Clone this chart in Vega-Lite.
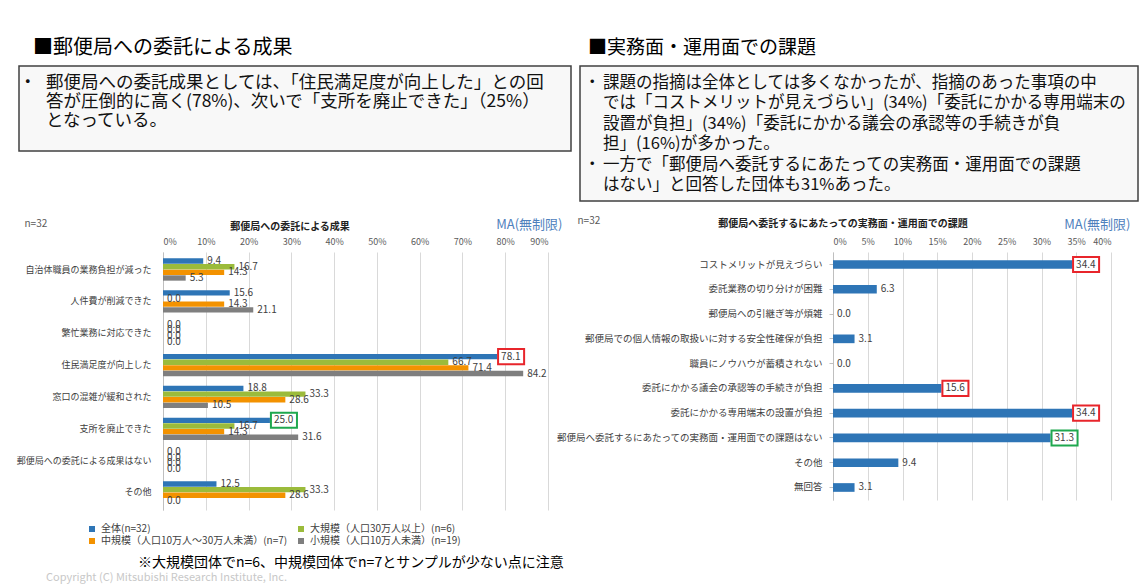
{
  "$schema": "https://vega.github.io/schema/vega-lite/v6.json",
  "background": "white",
  "padding": {"left": 15, "top": 37, "right": 5, "bottom": 2},
  "config": {
    "font": "Noto Sans CJK JP",
    "view": {"stroke": null},
    "title": {"font": "Noto Sans CJK JP"}
  },
  "title": {"text": "Copyright (C) Mitsubishi Research Institute, Inc.", "orient": "bottom", "anchor": "start", "fontSize": 11, "fontWeight": "normal", "color": "#c8c8c8", "offset": 2, "dx": 30},
  "datasets": {
    "leftText": [
      {"line": 1, "bullet": true, "text": "郵便局への委託成果としては、「住民満足度が向上した」との回"},
      {"line": 2, "bullet": false, "text": "答が圧倒的に高く(78%)、次いで「支所を廃止できた」（25%）"},
      {"line": 3, "bullet": false, "text": "となっている。"}
    ],
    "rightText": [
      {"line": 1, "bullet": true, "text": "課題の指摘は全体としては多くなかったが、指摘のあった事項の中"},
      {"line": 2, "bullet": false, "text": "では「コストメリットが見えづらい」(34%)「委託にかかる専用端末の"},
      {"line": 3, "bullet": false, "text": "設置が負担」(34%)「委託にかかる議会の承認等の手続きが負"},
      {"line": 4, "bullet": false, "text": "担」(16%)が多かった。"},
      {"line": 5, "bullet": true, "text": "一方で「郵便局へ委託するにあたっての実務面・運用面での課題"},
      {"line": 6, "bullet": false, "text": "はない」と回答した団体も31%あった。"}
    ],
    "left": [
      {"item": "自治体職員の業務負担が減った", "group": "全体(n=32)", "value": 9.4},
      {"item": "自治体職員の業務負担が減った", "group": "大規模（人口30万人以上）(n=6)", "value": 16.7},
      {"item": "自治体職員の業務負担が減った", "group": "中規模（人口10万人～30万人未満）(n=7)", "value": 14.3},
      {"item": "自治体職員の業務負担が減った", "group": "小規模（人口10万人未満）(n=19)", "value": 5.3},
      {"item": "人件費が削減できた", "group": "全体(n=32)", "value": 15.6},
      {"item": "人件費が削減できた", "group": "大規模（人口30万人以上）(n=6)", "value": 0.0},
      {"item": "人件費が削減できた", "group": "中規模（人口10万人～30万人未満）(n=7)", "value": 14.3},
      {"item": "人件費が削減できた", "group": "小規模（人口10万人未満）(n=19)", "value": 21.1},
      {"item": "繁忙業務に対応できた", "group": "全体(n=32)", "value": 0.0},
      {"item": "繁忙業務に対応できた", "group": "大規模（人口30万人以上）(n=6)", "value": 0.0},
      {"item": "繁忙業務に対応できた", "group": "中規模（人口10万人～30万人未満）(n=7)", "value": 0.0},
      {"item": "繁忙業務に対応できた", "group": "小規模（人口10万人未満）(n=19)", "value": 0.0},
      {"item": "住民満足度が向上した", "group": "全体(n=32)", "value": 78.1, "emphasis": "primary"},
      {"item": "住民満足度が向上した", "group": "大規模（人口30万人以上）(n=6)", "value": 66.7},
      {"item": "住民満足度が向上した", "group": "中規模（人口10万人～30万人未満）(n=7)", "value": 71.4},
      {"item": "住民満足度が向上した", "group": "小規模（人口10万人未満）(n=19)", "value": 84.2},
      {"item": "窓口の混雑が緩和された", "group": "全体(n=32)", "value": 18.8},
      {"item": "窓口の混雑が緩和された", "group": "大規模（人口30万人以上）(n=6)", "value": 33.3},
      {"item": "窓口の混雑が緩和された", "group": "中規模（人口10万人～30万人未満）(n=7)", "value": 28.6},
      {"item": "窓口の混雑が緩和された", "group": "小規模（人口10万人未満）(n=19)", "value": 10.5},
      {"item": "支所を廃止できた", "group": "全体(n=32)", "value": 25.0, "emphasis": "secondary"},
      {"item": "支所を廃止できた", "group": "大規模（人口30万人以上）(n=6)", "value": 16.7},
      {"item": "支所を廃止できた", "group": "中規模（人口10万人～30万人未満）(n=7)", "value": 14.3},
      {"item": "支所を廃止できた", "group": "小規模（人口10万人未満）(n=19)", "value": 31.6},
      {"item": "郵便局への委託による成果はない", "group": "全体(n=32)", "value": 0.0},
      {"item": "郵便局への委託による成果はない", "group": "大規模（人口30万人以上）(n=6)", "value": 0.0},
      {"item": "郵便局への委託による成果はない", "group": "中規模（人口10万人～30万人未満）(n=7)", "value": 0.0},
      {"item": "郵便局への委託による成果はない", "group": "小規模（人口10万人未満）(n=19)", "value": 0.0},
      {"item": "その他", "group": "全体(n=32)", "value": 12.5},
      {"item": "その他", "group": "大規模（人口30万人以上）(n=6)", "value": 33.3},
      {"item": "その他", "group": "中規模（人口10万人～30万人未満）(n=7)", "value": 28.6},
      {"item": "その他", "group": "小規模（人口10万人未満）(n=19)", "value": 0.0}
    ],
    "right": [
      {"item": "コストメリットが見えづらい", "value": 34.4, "emphasis": "primary"},
      {"item": "委託業務の切り分けが困難", "value": 6.3},
      {"item": "郵便局への引継ぎ等が煩雑", "value": 0.0},
      {"item": "郵便局での個人情報の取扱いに対する安全性確保が負担", "value": 3.1},
      {"item": "職員にノウハウが蓄積されない", "value": 0.0},
      {"item": "委託にかかる議会の承認等の手続きが負担", "value": 15.6, "emphasis": "primary"},
      {"item": "委託にかかる専用端末の設置が負担", "value": 34.4, "emphasis": "primary"},
      {"item": "郵便局へ委託するにあたっての実務面・運用面での課題はない", "value": 31.3, "emphasis": "secondary"},
      {"item": "その他", "value": 9.4},
      {"item": "無回答", "value": 3.1}
    ]
  },
  "spacing": 13,
  "vconcat": [
    {
      "spacing": 7,
      "hconcat": [
        {
          "title": {"text": "■郵便局への委託による成果", "anchor": "start", "fontSize": 20, "fontWeight": "normal", "color": "#000000", "offset": 8, "dx": 14},
          "width": 552,
          "height": 85,
          "view": {"stroke": "#404040", "strokeWidth": 1.5, "fill": "#f8f8f8"},
          "data": {"name": "leftText"},
          "encoding": {
            "x": {"datum": 0, "type": "quantitative", "scale": {"domain": [0, 1]}, "axis": null},
            "y": {"field": "line", "type": "quantitative", "scale": {"domain": [0.105, 4.58], "reverse": true}, "axis": null}
          },
          "layer": [
            {
              "transform": [{"filter": "datum.bullet"}],
              "mark": {"type": "text", "align": "left", "baseline": "middle", "fontSize": 17.5, "dx": 0, "color": "#111111"},
              "encoding": {"text": {"value": "・"}}
            },
            {
              "mark": {"type": "text", "align": "left", "baseline": "middle", "fontSize": 17.5, "dx": 27, "color": "#111111"},
              "encoding": {"text": {"field": "text"}}
            }
          ]
        },
        {
          "title": {"text": "■実務面・運用面での課題", "anchor": "start", "fontSize": 19, "fontWeight": "normal", "color": "#000000", "offset": 8, "dx": 8},
          "width": 558,
          "height": 135,
          "view": {"stroke": "#404040", "strokeWidth": 1.5, "fill": "#f8f8f8"},
          "data": {"name": "rightText"},
          "encoding": {
            "x": {"datum": 0, "type": "quantitative", "scale": {"domain": [0, 1]}, "axis": null},
            "y": {"field": "line", "type": "quantitative", "scale": {"domain": [0.167, 6.79], "reverse": true}, "axis": null}
          },
          "layer": [
            {
              "transform": [{"filter": "datum.bullet"}],
              "mark": {"type": "text", "align": "left", "baseline": "middle", "fontSize": 16.5, "dx": 4, "color": "#111111"},
              "encoding": {"text": {"value": "・"}}
            },
            {
              "mark": {"type": "text", "align": "left", "baseline": "middle", "fontSize": 16.5, "dx": 23, "color": "#111111"},
              "encoding": {"text": {"field": "text"}}
            }
          ]
        }
      ]
    },
    {
      "title": {"text": "※大規模団体でn=6、中規模団体でn=7とサンプルが少ない点に注意", "orient": "bottom", "anchor": "start", "fontSize": 14, "fontWeight": "normal", "color": "#000000", "offset": 46, "dx": 122},
      "vconcat": [
        {
          "spacing": -9,
          "hconcat": [
            {
              "width": 545,
              "height": 258,
              "title": {"text": "郵便局への委託による成果", "fontSize": 10, "fontWeight": "bold", "color": "#222222", "anchor": "middle", "frame": "bounds", "offset": -14},
              "data": {"name": "left"},
              "encoding": {
                "y": {
                  "field": "item", "type": "nominal",
                  "sort": ["自治体職員の業務負担が減った","人件費が削減できた","繁忙業務に対応できた","住民満足度が向上した","窓口の混雑が緩和された","支所を廃止できた","郵便局への委託による成果はない","その他"],
                  "scale": {"paddingInner": 0.3, "paddingOuter": 0.2},
                  "axis": {"offset": -144, "title": "n=32", "titleAngle": 0, "titleX": -139, "titleY": -29, "titleAlign": "left", "titleBaseline": "middle", "titleFontSize": 10, "titleFontWeight": "normal", "titleColor": "#595959", "labelFontSize": 9, "labelColor": "#404040", "ticks": false, "labelPadding": 12, "domainColor": "#bfbfbf", "labelLimit": 300}
                },
                "yOffset": {"field": "group", "type": "nominal", "sort": ["全体(n=32)","大規模（人口30万人以上）(n=6)","中規模（人口10万人～30万人未満）(n=7)","小規模（人口10万人未満）(n=19)"], "scale": {"paddingInner": 0.05}},
                "x": {
                  "field": "value", "type": "quantitative",
                  "scale": {"domain": [0, 90], "range": [144, 529]},
                  "axis": {"orient": "top", "values": [0,10,20,30,40,50,60,70,80,90], "labelExpr": "datum.value + '%'", "grid": true, "gridColor": "#d9d9d9", "ticks": false, "domain": false, "labelFontSize": 9, "labelColor": "#595959", "labelPadding": 6, "title": "MA(無制限)", "titleFontSize": 13, "titleFontWeight": "normal", "titleColor": "#4F81BD", "titlePadding": 6, "titleX": 543, "titleAlign": "right"}
                }
              },
              "layer": [
                {
                  "mark": {"type": "bar"},
                  "encoding": {
                    "color": {
                      "field": "group", "type": "nominal",
                      "scale": {"domain": ["全体(n=32)","大規模（人口30万人以上）(n=6)","中規模（人口10万人～30万人未満）(n=7)","小規模（人口10万人未満）(n=19)"], "range": ["#2E75B6","#9BBB3B","#F39200","#7F7F7F"]},
                      "legend": {"title": null, "orient": "none", "direction": "horizontal", "legendX": 68, "legendY": 458, "columns": 2, "symbolType": "square", "symbolSize": 36, "labelFontSize": 10, "labelColor": "#404040", "rowPadding": 2, "columnPadding": 8, "labelLimit": 400}
                    }
                  }
                },
                {
                  "transform": [{"filter": "isValid(datum.emphasis)"}],
                  "mark": {"type": "point", "shape": "M0.07,-0.54H1.93V0.54H0.07Z", "size": 784, "filled": true, "fill": "white", "strokeWidth": 2, "opacity": 1},
                  "encoding": {
                    "stroke": {"field": "emphasis", "type": "nominal", "scale": {"domain": ["primary","secondary"], "range": ["#E8252B","#1FA84F"]}, "legend": null}
                  }
                },
                {
                  "mark": {"type": "text", "align": "left", "baseline": "middle", "dx": 4, "fontSize": 10, "color": "#404040"},
                  "encoding": {"text": {"field": "value", "type": "quantitative", "format": ".1f"}}
                }
              ]
            },
            {
              "width": 556,
              "height": 248,
              "title": {"text": "郵便局へ委託するにあたっての実務面・運用面での課題", "fontSize": 10, "fontWeight": "bold", "color": "#222222", "anchor": "middle", "frame": "bounds", "offset": -14},
              "data": {"name": "right"},
              "encoding": {
                "y": {
                  "field": "item", "type": "nominal",
                  "sort": ["コストメリットが見えづらい","委託業務の切り分けが困難","郵便局への引継ぎ等が煩雑","郵便局での個人情報の取扱いに対する安全性確保が負担","職員にノウハウが蓄積されない","委託にかかる議会の承認等の手続きが負担","委託にかかる専用端末の設置が負担","郵便局へ委託するにあたっての実務面・運用面での課題はない","その他","無回答"],
                  "scale": {"paddingInner": 0.65, "paddingOuter": 0.33},
                  "axis": {"offset": -259, "title": "n=32", "titleAngle": 0, "titleX": -256, "titleY": -32, "titleAlign": "left", "titleBaseline": "middle", "titleFontSize": 10, "titleFontWeight": "normal", "titleColor": "#595959", "labelFontSize": 9.5, "labelColor": "#404040", "ticks": true, "tickColor": "#bfbfbf", "tickSize": 4, "labelPadding": 7, "domainColor": "#bfbfbf", "labelLimit": 400}
                },
                "x": {
                  "field": "value", "type": "quantitative",
                  "scale": {"domain": [0, 40], "range": [259, 537]},
                  "axis": {"orient": "top", "values": [0,5,10,15,20,25,30,35,40], "labelExpr": "datum.value + '%'", "grid": true, "gridColor": "#d9d9d9", "ticks": false, "domain": false, "labelFontSize": 9, "labelColor": "#595959", "labelPadding": 6, "title": "MA(無制限)", "titleFontSize": 13, "titleFontWeight": "normal", "titleColor": "#4F81BD", "titlePadding": 6, "titleX": 556, "titleAlign": "right"}
                }
              },
              "layer": [
                {
                  "mark": {"type": "bar", "color": "#2E75B6"}
                },
                {
                  "transform": [{"filter": "isValid(datum.emphasis)"}],
                  "mark": {"type": "point", "shape": "M0.07,-0.54H1.93V0.54H0.07Z", "size": 784, "filled": true, "fill": "white", "strokeWidth": 2, "opacity": 1},
                  "encoding": {
                    "stroke": {"field": "emphasis", "type": "nominal", "scale": {"domain": ["primary","secondary"], "range": ["#E8252B","#1FA84F"]}, "legend": null}
                  }
                },
                {
                  "mark": {"type": "text", "align": "left", "baseline": "middle", "dx": 4, "fontSize": 10, "color": "#404040"},
                  "encoding": {"text": {"field": "value", "type": "quantitative", "format": ".1f"}}
                }
              ]
            }
          ]
        }
      ]
    }
  ]
}
